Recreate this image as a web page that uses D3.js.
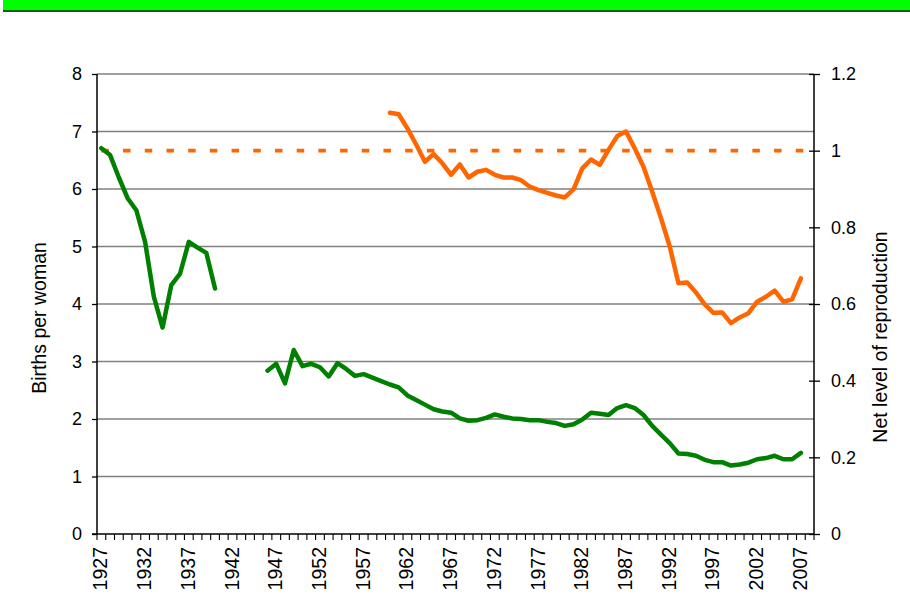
<!DOCTYPE html>
<html>
<head>
<meta charset="utf-8">
<script src="https://cdn.jsdelivr.net/npm/d3@7"></script>
<style>
  html, body { margin: 0; padding: 0; background: #fff; }
  svg { display: block; }
  text { font-family: "Liberation Sans", Arial, sans-serif; fill: #000; }
</style>
</head>
<body>
<svg id="chart" width="910" height="616"></svg>
<script>
// ---------- DATA ----------
const years = d3.range(1927, 2009); // 1927 .. 2008 categories
const tickLabelYears = [1927, 1932, 1937, 1942, 1947, 1952, 1957, 1962, 1967, 1972, 1977, 1982, 1987, 1992, 1997, 2002, 2007];

// Births per woman (left axis), null where no data
const birthsPerWoman = [
  6.71, 6.59, 6.20, 5.84, 5.63, 5.08, 4.13, 3.59, 4.33, 4.53, 5.08, 4.98, 4.89, 4.27, // 1927-1940
  null, null, null, null, null,                                                    // 1941-1945
  2.84, 2.96, 2.62, 3.20, 2.92, 2.96, 2.90, 2.74, 2.97, 2.87,                       // 1946-1955
  2.75, 2.78, 2.72, 2.66, 2.60, 2.55, 2.41, 2.33, 2.25, 2.17,                       // 1956-1965
  2.13, 2.11, 2.01, 1.97, 1.98, 2.02, 2.08, 2.04, 2.01, 2.00,                       // 1966-1975
  1.98, 1.98, 1.95, 1.93, 1.88, 1.91, 1.99, 2.11, 2.09, 2.07,                       // 1976-1985
  2.19, 2.24, 2.19, 2.07, 1.88, 1.73, 1.58, 1.40, 1.39, 1.36,                       // 1986-1995
  1.29, 1.25, 1.25, 1.19, 1.21, 1.24, 1.30, 1.32, 1.36, 1.30,                       // 1996-2005
  1.30, 1.41, null                                                                  // 2006-2008
];

// Net level of reproduction (right axis)
const netReproduction = [
  null, null, null, null, null, null, null, null, null, null,                       // 1927-1936
  null, null, null, null, null, null, null, null, null, null,                       // 1937-1946
  null, null, null, null, null, null, null, null, null, null,                       // 1947-1956
  null, null, null,                                                                 // 1957-1959
  1.099, 1.095, 1.058, 1.016, 0.971, 0.991, 0.967, 0.937, 0.964, 0.930,             // 1960-1969
  0.945, 0.950, 0.937, 0.930, 0.930, 0.923, 0.906, 0.897, 0.890, 0.883,             // 1970-1979
  0.878, 0.899, 0.954, 0.977, 0.963, 1.002, 1.038, 1.050, 1.006, 0.958,             // 1980-1989
  0.893, 0.824, 0.750, 0.654, 0.656, 0.630, 0.599, 0.577, 0.578, 0.550,             // 1990-1999
  0.565, 0.576, 0.606, 0.619, 0.635, 0.606, 0.612, 0.667, null                      // 2000-2008
];

// Replacement level (right axis), constant 1
const replacementLevel = years.map(() => 1);

const leftTicks = [0, 1, 2, 3, 4, 5, 6, 7, 8];
const rightTicks = [0, 0.2, 0.4, 0.6, 0.8, 1, 1.2];

// ---------- LAYOUT ----------
const svg = d3.select("#chart");
const plot = { left: 97, right: 814, top: 74, bottom: 534 };
const green = "#008000", orange = "#FF6600";

// top banner
svg.append("rect").attr("x", 3).attr("y", 0).attr("width", 907).attr("height", 10).attr("fill", "#00FF00");
svg.append("rect").attr("x", 3).attr("y", 10).attr("width", 907).attr("height", 2).attr("fill", "#0B5E0B");

const x = d3.scaleBand().domain(years).range([plot.left, plot.right]).padding(0);
const xc = yr => x(yr) + x.bandwidth() / 2;
const yL = d3.scaleLinear().domain([0, 8]).range([plot.bottom, plot.top]);
const yR = d3.scaleLinear().domain([0, 1.2]).range([plot.bottom, plot.top]);

// gridlines
svg.append("g").selectAll("line").data(leftTicks.filter(d => d > 0)).join("line")
  .attr("x1", plot.left).attr("x2", plot.right)
  .attr("y1", d => yL(d)).attr("y2", d => yL(d))
  .attr("stroke", "#808080").attr("stroke-width", 1.3);

// left axis
const gL = svg.append("g").attr("transform", `translate(${plot.left},0)`)
  .call(d3.axisLeft(yL).tickValues(leftTicks).tickSize(5).tickPadding(10).tickFormat(d3.format("d")));
gL.select(".domain").remove();
gL.selectAll(".tick line").attr("stroke", "#000").attr("stroke-width", 1.3);
gL.selectAll(".tick text").attr("font-size", 18).style("font-family", "'Liberation Sans', Arial, sans-serif");
svg.append("line").attr("x1", plot.left).attr("x2", plot.left).attr("y1", plot.top).attr("y2", plot.bottom)
  .attr("stroke", "#000").attr("stroke-width", 1.5);

// right axis
const gR = svg.append("g").attr("transform", `translate(${plot.right},0)`)
  .call(d3.axisRight(yR).tickValues(rightTicks).tickSize(6).tickPadding(11).tickFormat(d => String(+d.toFixed(1))));
gR.select(".domain").remove();
gR.selectAll(".tick line").attr("x1", -5).attr("stroke", "#000").attr("stroke-width", 1.3);
gR.selectAll(".tick text").attr("font-size", 18).style("font-family", "'Liberation Sans', Arial, sans-serif");
svg.append("line").attr("x1", plot.right).attr("x2", plot.right).attr("y1", plot.top).attr("y2", plot.bottom + 1)
  .attr("stroke", "#000").attr("stroke-width", 1.5);

// bottom axis
const gX = svg.append("g").attr("transform", `translate(0,${plot.bottom})`)
  .call(d3.axisBottom(x).tickValues(tickLabelYears).tickSize(0).tickPadding(0));
gX.select(".domain").remove();
gX.selectAll(".tick text")
  .attr("font-size", 19.5)
  .style("font-family", "'Liberation Sans', Arial, sans-serif")
  .attr("text-anchor", "end")
  .attr("transform", "translate(-1,13) rotate(-90)")
  .attr("x", 0).attr("y", 0).attr("dy", "0.36em");
// category boundary ticks
const boundaries = years.map(yr => x(yr)).concat([plot.right]);
svg.append("g").selectAll("line").data(boundaries).join("line")
  .attr("x1", d => d).attr("x2", d => d)
  .attr("y1", plot.bottom).attr("y2", plot.bottom + 6)
  .attr("stroke", "#000").attr("stroke-width", 1.1);
svg.append("line").attr("x1", plot.left - 5).attr("x2", plot.right).attr("y1", plot.bottom).attr("y2", plot.bottom)
  .attr("stroke", "#000").attr("stroke-width", 1.5);

// axis titles
svg.append("text").attr("transform", `translate(46,${(plot.top + plot.bottom) / 2 + 14}) rotate(-90)`)
  .attr("text-anchor", "middle").attr("font-size", 19.5).text("Births per woman");
svg.append("text").attr("transform", `translate(887,${(plot.top + plot.bottom) / 2 + 33}) rotate(-90)`)
  .attr("text-anchor", "middle").attr("font-size", 19.5).text("Net level of reproduction");

// lines
const lineL = d3.line().defined(d => d.v != null).x(d => xc(d.yr)).y(d => yL(d.v));
const lineR = d3.line().defined(d => d.v != null).x(d => xc(d.yr)).y(d => yR(d.v));

svg.append("path")
  .datum(years.map((yr, i) => ({ yr, v: replacementLevel[i] })))
  .attr("d", lineR).attr("fill", "none").attr("stroke", orange)
  .attr("stroke-width", 3.6).attr("stroke-dasharray", "7.5,14.2");

svg.append("path")
  .datum(years.map((yr, i) => ({ yr, v: birthsPerWoman[i] })))
  .attr("d", lineL).attr("fill", "none").attr("stroke", green)
  .attr("stroke-width", 4.5).attr("stroke-linejoin", "round").attr("stroke-linecap", "round");

svg.append("path")
  .datum(years.map((yr, i) => ({ yr, v: netReproduction[i] })))
  .attr("d", lineR).attr("fill", "none").attr("stroke", orange)
  .attr("stroke-width", 4.5).attr("stroke-linejoin", "round").attr("stroke-linecap", "round");
</script>
</body>
</html>
